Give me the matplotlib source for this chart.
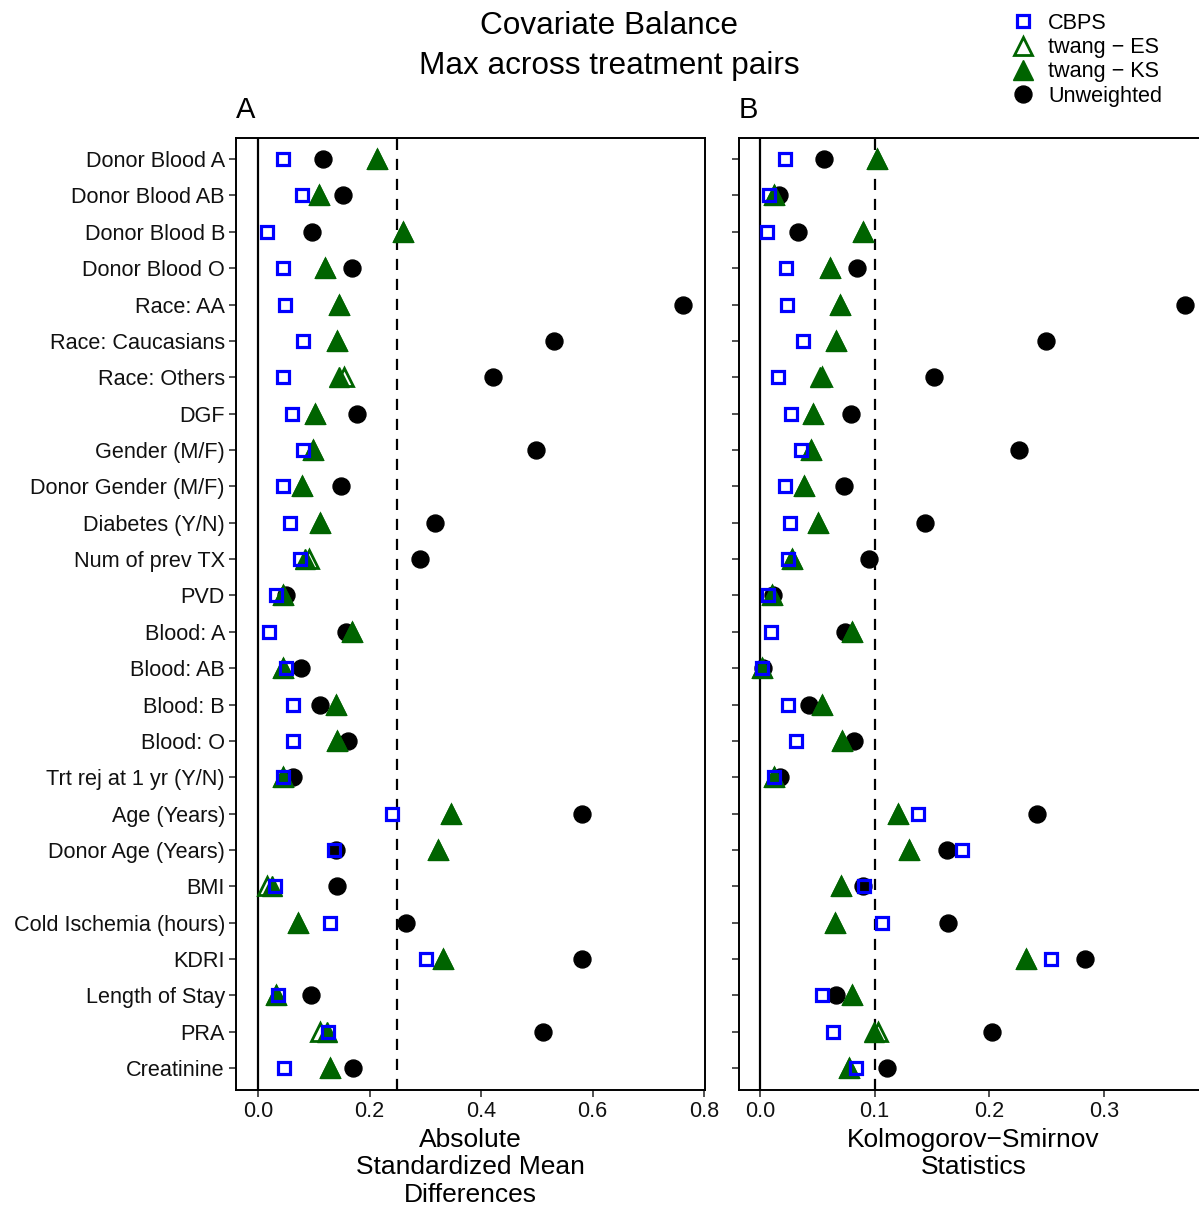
import matplotlib
matplotlib.use("Agg")
import matplotlib.pyplot as plt
from matplotlib.lines import Line2D

plt.rcParams['font.family'] = ['Liberation Sans', 'DejaVu Sans']

covariates = ["Donor Blood A", "Donor Blood AB", "Donor Blood B", "Donor Blood O",
              "Race: AA", "Race: Caucasians", "Race: Others", "DGF", "Gender (M/F)",
              "Donor Gender (M/F)", "Diabetes (Y/N)", "Num of prev TX", "PVD",
              "Blood: A", "Blood: AB", "Blood: B", "Blood: O", "Trt rej at 1 yr (Y/N)",
              "Age (Years)", "Donor Age (Years)", "BMI", "Cold Ischemia (hours)",
              "KDRI", "Length of Stay", "PRA", "Creatinine"]

# Panel A: absolute standardized mean differences
smd_cbps = [0.045, 0.079, 0.017, 0.045, 0.048, 0.080, 0.045, 0.061, 0.080,
            0.045, 0.058, 0.075, 0.032, 0.020, 0.051, 0.062, 0.062, 0.044,
            0.241, 0.136, 0.031, 0.129, 0.301, 0.035, 0.126, 0.046]
smd_es = [0.214, 0.110, 0.260, 0.120, 0.145, 0.141, 0.154, 0.103, 0.099,
          0.078, 0.112, 0.092, 0.045, 0.169, 0.045, 0.139, 0.142, 0.044,
          0.347, 0.323, 0.0155, 0.071, 0.331, 0.032, 0.111, 0.130]
smd_ks = [0.214, 0.110, 0.260, 0.120, 0.145, 0.141, 0.146, 0.103, 0.099,
          0.078, 0.112, 0.084, 0.045, 0.169, 0.045, 0.139, 0.142, 0.044,
          0.347, 0.323, 0.0245, 0.071, 0.331, 0.032, 0.124, 0.130]
smd_unw = [0.117, 0.153, 0.097, 0.169, 0.763, 0.531, 0.4215, 0.177, 0.499,
           0.149, 0.318, 0.290, 0.050, 0.157, 0.077, 0.111, 0.162, 0.063,
           0.581, 0.139, 0.142, 0.266, 0.581, 0.095, 0.511, 0.171]

# Panel B: Kolmogorov-Smirnov statistics
ks_cbps = [0.022, 0.008, 0.006, 0.023, 0.0236, 0.0375, 0.016, 0.027, 0.036,
           0.022, 0.026, 0.0244, 0.0067, 0.0099, 0.0015, 0.024, 0.031, 0.012,
           0.1379, 0.176, 0.0905, 0.1065, 0.2534, 0.054, 0.064, 0.0835]
ks_es = [0.102, 0.0125, 0.090, 0.061, 0.070, 0.066, 0.054, 0.046, 0.0445,
         0.038, 0.0506, 0.028, 0.0107, 0.080, 0.0015, 0.054, 0.0716, 0.0125,
         0.1204, 0.130, 0.0704, 0.0654, 0.232, 0.0806, 0.1027, 0.0774]
ks_ks = [0.102, 0.0125, 0.090, 0.061, 0.070, 0.066, 0.052, 0.046, 0.0445,
         0.038, 0.0506, 0.028, 0.0107, 0.080, 0.0015, 0.054, 0.0716, 0.0125,
         0.1204, 0.130, 0.0704, 0.0654, 0.232, 0.0806, 0.0998, 0.0774]
ks_unw = [0.056, 0.017, 0.033, 0.085, 0.371, 0.249, 0.1515, 0.079, 0.2255,
          0.073, 0.1437, 0.0954, 0.011, 0.074, 0.003, 0.0428, 0.0817, 0.0177,
          0.2414, 0.163, 0.0896, 0.164, 0.283, 0.0663, 0.2019, 0.1106]

left_ticks = [0.0, 0.2, 0.4, 0.6, 0.8]
right_ticks = [0.0, 0.1, 0.2, 0.3]

W, H = 1199, 1209
fig = plt.figure(figsize=(W / 100, H / 100), dpi=100)
axA = fig.add_axes([236 / W, 1 - 1090 / H, (705 - 236) / W, (1090 - 138) / H])
axB = fig.add_axes([739 / W, 1 - 1090 / H, (1208 - 739) / W, (1090 - 138) / H])

ypos = list(range(1, len(covariates) + 1))
blue = '#0000FF'
green = '#006400'
FS = 15.6

def draw(ax, cbps, es, ks, unw, thresh, xlim, ticks):
    ax.axvline(0, color='black', lw=1.6, zorder=1)
    ax.axvline(thresh, color='black', lw=1.6, ls=(0, (5, 4)), zorder=1)
    ax.plot(unw, ypos, ls='none', marker='o', ms=12.2, color='black', zorder=2)
    ax.plot(ks, ypos, ls='none', marker='^', ms=14.5, color=green, mec=green, zorder=3)
    ax.plot(es, ypos, ls='none', marker='^', ms=12.5, mfc='none', mec=green, mew=2, zorder=4)
    ax.plot(cbps, ypos, ls='none', marker='s', ms=8.5, mfc='none', mec=blue, mew=2.3, zorder=5)
    ax.set_xlim(*xlim)
    ax.set_ylim(len(covariates) + 0.6, 0.42)
    ax.set_xticks(ticks)
    ax.set_xticklabels([f"{t:.1f}" for t in ticks])
    ax.set_yticks(ypos)
    for s in ax.spines.values():
        s.set_linewidth(1.4)
        s.set_color('black')
    ax.tick_params(axis='both', length=5, width=1.2, color='#333333',
                   labelsize=FS, labelcolor='#111111', pad=3)

draw(axA, smd_cbps, smd_es, smd_ks, smd_unw, 0.25, (-0.0395, 0.8018), left_ticks)
draw(axB, ks_cbps, ks_es, ks_ks, ks_unw, 0.1, (-0.0183, 0.3907), right_ticks)
axA.set_yticklabels(covariates)
axB.set_yticklabels([])

axA.set_xlabel("Absolute\nStandardized Mean\nDifferences", fontsize=19, labelpad=4, linespacing=1.2)
axB.set_xlabel("Kolmogorov\u2212Smirnov\nStatistics", fontsize=19, labelpad=4, linespacing=1.2)

axA.text(0.0, 1.015, "A", transform=axA.transAxes, fontsize=21, ha='left', va='bottom')
axB.text(0.0, 1.015, "B", transform=axB.transAxes, fontsize=21, ha='left', va='bottom')

fig.text(609 / W, 1 - 11 / H, "Covariate Balance\nMax across treatment pairs", ha='center', va='top',
         fontsize=22.7, linespacing=1.45)

handles = [
    Line2D([], [], ls='none', marker='s', ms=8.5, mfc='none', mec=blue, mew=2.3),
    Line2D([], [], ls='none', marker='^', ms=12.5, mfc='none', mec=green, mew=2),
    Line2D([], [], ls='none', marker='^', ms=14.5, color=green),
    Line2D([], [], ls='none', marker='o', ms=12.2, color='black'),
]
labels = ["CBPS", "twang \u2212 ES", "twang \u2212 KS", "Unweighted"]
fig.legend(handles, labels, loc='upper left', bbox_to_anchor=(1010 / W, 1 - 13 / H),
           frameon=False, fontsize=FS, handlelength=1.2, handletextpad=0.55,
           labelspacing=0.15, borderpad=0, borderaxespad=0)

fig.savefig("out.png", dpi=100)
